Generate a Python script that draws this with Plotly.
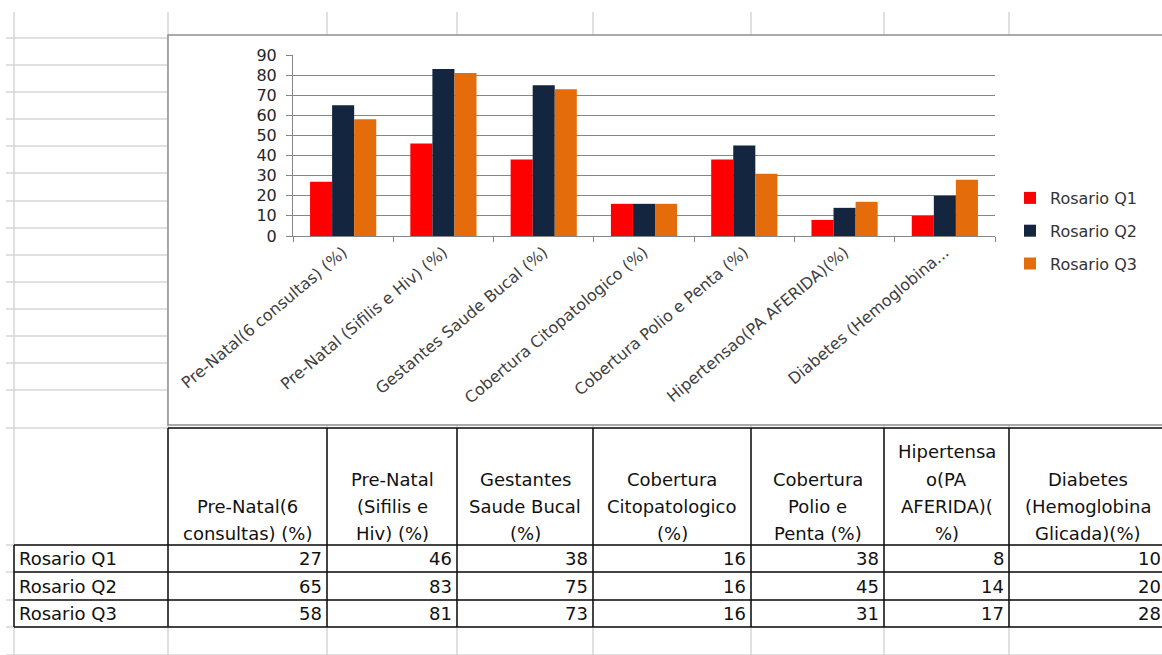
import plotly.graph_objects as go

# ---------------- data ----------------
categories = [
    "Pre-Natal(6 consultas) (%)",
    "Pre-Natal (Sifilis e Hiv) (%)",
    "Gestantes Saude Bucal (%)",
    "Cobertura Citopatologico (%)",
    "Cobertura Polio e Penta (%)",
    "Hipertensao(PA AFERIDA)(%)",
    "Diabetes (Hemoglobina Glicada)(%)",
]
tick_labels = [
    "Pre-Natal(6 consultas) (%)",
    "Pre-Natal (Sifilis e Hiv) (%)",
    "Gestantes Saude Bucal (%)",
    "Cobertura Citopatologico (%)",
    "Cobertura Polio e Penta (%)",
    "Hipertensao(PA AFERIDA)(%)",
    "Diabetes (Hemoglobina...",
]
table_headers = [
    "Pre-Natal(6\nconsultas) (%)",
    "Pre-Natal\n(Sifilis e\nHiv) (%)",
    "Gestantes\nSaude Bucal\n(%)",
    "Cobertura\nCitopatologico\n(%)",
    "Cobertura\nPolio e\nPenta (%)",
    "Hipertensa\no(PA\nAFERIDA)(\n%)",
    "Diabetes\n(Hemoglobina\nGlicada)(%)",
]
series_names = ["Rosario Q1", "Rosario Q2", "Rosario Q3"]
q1 = [27, 46, 38, 16, 38, 8, 10]
q2 = [65, 83, 75, 16, 45, 14, 20]
q3 = [58, 81, 73, 16, 31, 17, 28]
series_values = [q1, q2, q3]
series_colors = ["#FF0000", "#13253F", "#E46C0A"]

# ---------------- geometry helpers ----------------
W, H = 1162, 655
def X(px):
    return px / W
def Y(py):
    return 1 - py / H

FONT = "DejaVu Sans"
GRID = "#d6d6d6"
AXIS = "#868686"

col_x = [14, 168, 327, 457, 593, 751, 884, 1009, 1166]
top_rows = [38, 65, 92, 119, 146, 173, 201, 228, 255, 282, 309, 336, 363, 390, 428]
table_rows = [428, 545, 572, 600, 627, 655]

fig = go.Figure()
for name, vals, color in zip(series_names, series_values, series_colors):
    fig.add_trace(go.Bar(
        x=categories, y=vals, name=name, marker_color=color,
        marker_line_width=0, legendgroup=name,
    ))

shapes = []
# spreadsheet gridlines
for cx in col_x[:-1]:
    shapes.append(dict(type="line", xref="paper", yref="paper",
                       x0=X(cx), x1=X(cx), y0=Y(12), y1=Y(655),
                       line=dict(color=GRID, width=1.5), layer="below"))
for ry in top_rows + table_rows[1:]:
    shapes.append(dict(type="line", xref="paper", yref="paper",
                       x0=X(6), x1=X(1162), y0=Y(ry), y1=Y(ry),
                       line=dict(color=GRID, width=1.5), layer="below"))
# chart box
shapes.append(dict(type="rect", xref="paper", yref="paper",
                   x0=X(168), x1=X(1175), y0=Y(425), y1=Y(35),
                   fillcolor="white", line=dict(color="#8f8f8f", width=1.5),
                   layer="below"))
# table borders
BL = dict(color="#111111", width=1.5)
shapes.append(dict(type="line", xref="paper", yref="paper",
                   x0=X(168), x1=X(1166), y0=Y(428), y1=Y(428), line=BL))
for ry in table_rows[1:5]:
    shapes.append(dict(type="line", xref="paper", yref="paper",
                       x0=X(14), x1=X(1166), y0=Y(ry), y1=Y(ry), line=BL))
shapes.append(dict(type="line", xref="paper", yref="paper",
                   x0=X(14), x1=X(14), y0=Y(545), y1=Y(627), line=BL))
for cx in col_x[1:]:
    shapes.append(dict(type="line", xref="paper", yref="paper",
                       x0=X(cx), x1=X(cx), y0=Y(428), y1=Y(627), line=BL))

annotations = []
TF = dict(family=FONT, size=18, color="#111111")
# header texts
for i, hdr in enumerate(table_headers):
    lines = hdr.split("\n")
    cxm = (col_x[i + 1] + col_x[i + 2]) / 2
    n = len(lines)
    for j, ln in enumerate(lines):
        yc = 533 - (n - 1 - j) * 27
        annotations.append(dict(xref="paper", yref="paper", x=X(cxm), y=Y(yc),
                                text=ln, showarrow=False, xanchor="center",
                                yanchor="middle", font=TF))
# row labels and values
for r, (name, vals) in enumerate(zip(series_names, series_values)):
    yc = (table_rows[r + 1] + table_rows[r + 2]) / 2
    annotations.append(dict(xref="paper", yref="paper", x=X(17), y=Y(yc),
                            text=name, showarrow=False, xanchor="left",
                            yanchor="middle", font=TF))
    for i, v in enumerate(vals):
        annotations.append(dict(xref="paper", yref="paper",
                                x=X(col_x[i + 2] - 3), y=Y(yc),
                                text=str(v), showarrow=False, xanchor="right",
                                yanchor="middle", font=TF))

fig.update_layout(
    width=W, height=H, autosize=False,
    margin=dict(l=0, r=0, t=0, b=0, pad=0, autoexpand=False),
    paper_bgcolor="white",
    plot_bgcolor="rgba(0,0,0,0)",
    barmode="group", bargap=0.34, bargroupgap=0,
    font=dict(family=FONT, color="#333333"),
    shapes=shapes, annotations=annotations,
    legend=dict(x=X(1010), y=Y(181), xanchor="left", yanchor="top",
                font=dict(family=FONT, size=16, color="#333333"),
                tracegroupgap=9, traceorder="grouped",
                bgcolor="rgba(0,0,0,0)"),
    xaxis=dict(domain=[X(293), X(995)], showline=True, linecolor=AXIS,
               linewidth=1, ticks="outside", tickson="boundaries", ticklen=5,
               tickcolor=AXIS, tickangle=-40, tickvals=categories,
               ticktext=tick_labels, tickfont=dict(family=FONT, size=16, color="#404040"),
               showgrid=False, fixedrange=True, automargin=False),
    yaxis=dict(domain=[Y(236), Y(55)], range=[0, 90], dtick=10,
               showline=True, linecolor=AXIS, linewidth=1, ticks="outside",
               ticklen=6, tickcolor=AXIS, showgrid=True, gridcolor=AXIS,
               gridwidth=1, zeroline=False, automargin=False,
               ticklabelstandoff=6,
               tickfont=dict(family=FONT, size=16, color="#262626")),
)

fig.write_html("out.html")
